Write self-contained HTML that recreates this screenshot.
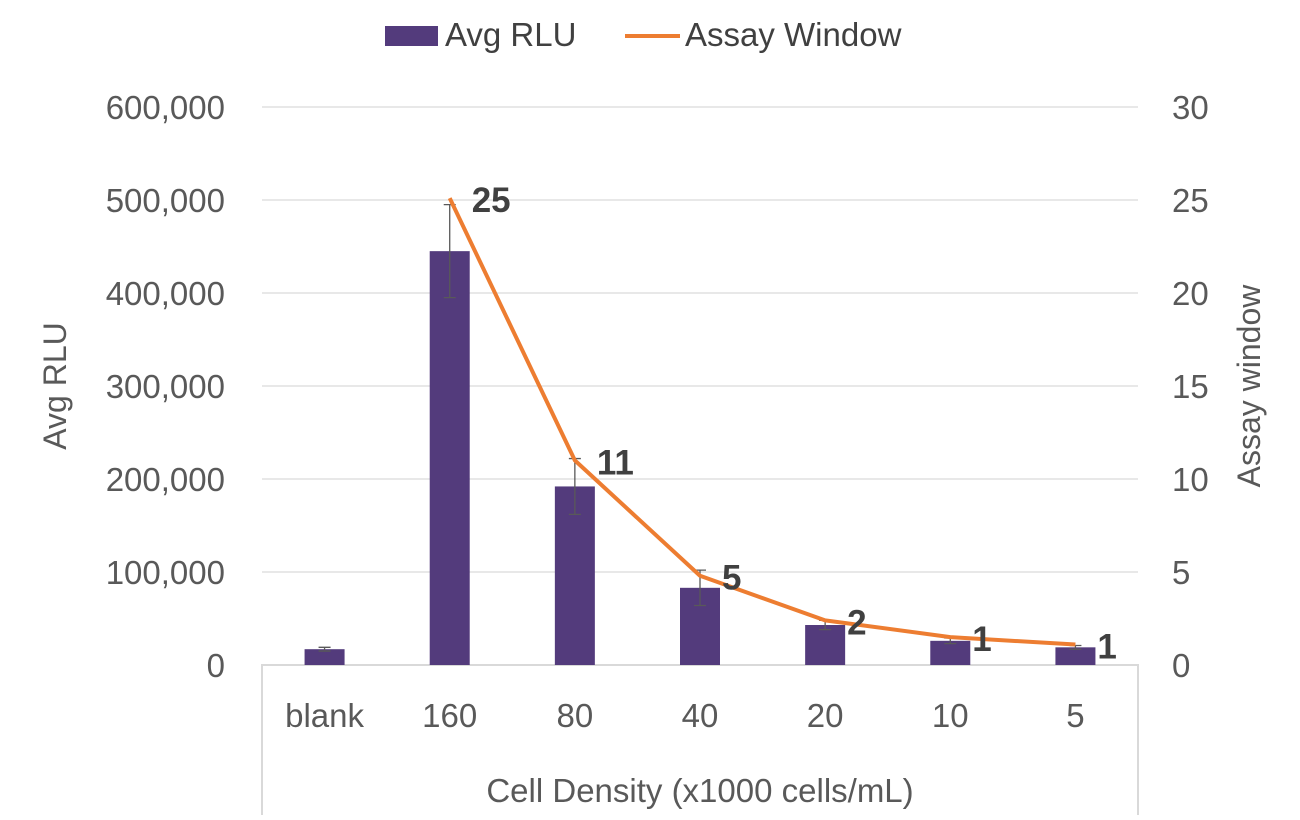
<!DOCTYPE html>
<html><head><meta charset="utf-8"><style>
body{margin:0;background:#fff;}
svg{display:block;font-family:"Liberation Sans",sans-serif;}
</style></head><body>
<svg id="chart" width="1300" height="820">
<g id="grid"></g><g id="bars"></g><g id="lines"></g><g id="labels"></g>
<g>
<rect x="385" y="26" width="53" height="20" fill="#533b7c"/>
<text x="445" y="46" font-size="33" fill="#404040">Avg RLU</text>
<line x1="625" y1="36" x2="680" y2="36" stroke="#ed7d31" stroke-width="4"/>
<text x="685" y="46" font-size="33" fill="#404040">Assay Window</text>
</g>
<text transform="translate(66,386) rotate(-90)" text-anchor="middle" font-size="32" fill="#595959">Avg RLU</text>
<text transform="translate(1260,386) rotate(-90)" text-anchor="middle" font-size="32" fill="#595959">Assay window</text>
<text x="700" y="802" text-anchor="middle" font-size="33" fill="#595959">Cell Density (x1000 cells/mL)</text>
</svg>
<script>
const categories=["blank","160","80","40","20","10","5"];
const avgRlu=[17000,445000,192000,83000,43000,26000,19000];
const rluErr=[2000,50000,30000,19000,5000,3000,2000];
const assayWindow=[null,25.1,11,4.8,2.4,1.5,1.1];
const assayLabels=["","25","11","5","2","1","1"];
const leftTicks=[0,100000,200000,300000,400000,500000,600000];
const rightTicks=[0,5,10,15,20,25,30];
const X0=262,X1=1138,Y0=665,Y1=107;
const band=(X1-X0)/categories.length;
const xc=i=>X0+band*(i+0.5);
const yL=v=>Y0-(v/600000)*(Y0-Y1);
const yR=v=>Y0-(v/30)*(Y0-Y1);
const NS="http://www.w3.org/2000/svg";
function mk(parent,tag,attrs){const e=document.createElementNS(NS,tag);for(const k in attrs)e.setAttribute(k,attrs[k]);document.getElementById(parent).appendChild(e);return e;}
leftTicks.forEach((t,i)=>{
  if(t>0){const g=mk("grid","line",{x1:X0,x2:X1,y1:yL(t),y2:yL(t),stroke:"#d9d9d9","stroke-width":1.3});
  
  }
  const tx=mk("grid","text",{x:225,y:yL(t)+12,"text-anchor":"end","font-size":33,fill:"#595959"});
  tx.textContent=t.toLocaleString("en-US");
  
  
});
rightTicks.forEach(t=>{
  const tx=mk("grid","text",{x:1172,y:yR(t)+12,"text-anchor":"start","font-size":33,fill:"#595959"});
  tx.textContent=t;
  
  
});
const ax=mk("grid","path",{d:`M${X0},815 V${Y0} H${X1} V815`,fill:"none",stroke:"#d9d9d9","stroke-width":2});


categories.forEach((c,i)=>{
  const tx=mk("grid","text",{x:xc(i),y:727,"text-anchor":"middle","font-size":33,fill:"#595959"});
  tx.textContent=c;
  
  
  const b=mk("bars","rect",{x:xc(i)-20,y:yL(avgRlu[i]),width:40,height:Y0-yL(avgRlu[i]),fill:"#533b7c"});
  
  
  const hi=yL(avgRlu[i]+rluErr[i]),lo=yL(avgRlu[i]-rluErr[i]);
  const e=mk("bars","path",{d:`M${xc(i)},${hi}V${lo}M${xc(i)-6},${hi}h12M${xc(i)-6},${lo}h12`,stroke:"#595959","stroke-width":1.3,fill:"none"});
  
  
});
let d="";
assayWindow.forEach((v,i)=>{if(v!==null)d+=(d?"L":"M")+xc(i)+","+yR(v);});
const ln=mk("lines","path",{d:d,fill:"none",stroke:"#ed7d31","stroke-width":4,"stroke-linejoin":"round"});


assayWindow.forEach((v,i)=>{if(v===null)return;
  const tx=mk("labels","text",{x:xc(i)+22,y:yR(v)+14,"font-size":35,"font-weight":"bold",fill:"#404040"});
  tx.textContent=assayLabels[i];
  
  
});
</script>
</body></html>
